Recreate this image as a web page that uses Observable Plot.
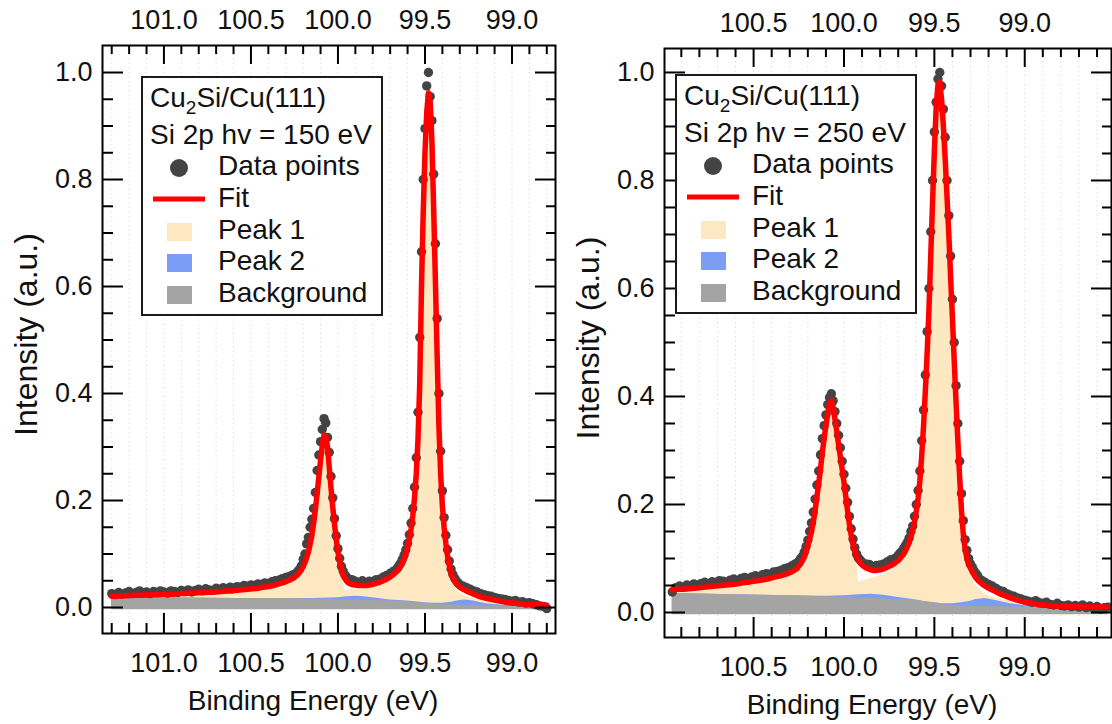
<!DOCTYPE html>
<html><head><meta charset="utf-8">
<script src="https://cdn.jsdelivr.net/npm/d3@7"></script>
<script src="https://cdn.jsdelivr.net/npm/@observablehq/plot@0.6"></script>
<style>
html,body{margin:0;padding:0;background:#fff;}
#wrap{position:relative;width:1112px;height:724px;overflow:hidden;background:#fff;}
#wrap > div{position:absolute;top:0;}
</style></head><body><div id="wrap"></div>
<script>
// ================= Panel A : hv = 150 eV =================
// measured data points
const dataEnergyA = [101.30,101.28,101.26,101.24,101.22,101.20,101.18,101.16,101.14,101.12,101.10,101.08,101.06,101.04,101.02,101.00,100.98,100.96,100.94,100.92,100.90,100.88,100.86,100.84,100.82,100.80,100.78,100.76,100.74,100.72,100.70,100.68,100.66,100.64,100.62,100.60,100.58,100.56,100.54,100.52,100.50,100.48,100.46,100.44,100.42,100.40,100.38,100.36,100.34,100.32,100.30,100.28,100.26,
100.25,100.24,100.23,100.22,100.21,100.20,100.19,100.18,100.17,100.16,100.15,100.14,100.13,100.12,100.11,100.10,100.09,100.08,100.07,100.06,100.05,100.04,100.03,100.02,100.01,100.00,99.99,99.98,99.97,99.96,99.95,99.94,
99.92,99.90,99.88,99.86,99.84,99.82,99.80,99.78,99.76,99.74,99.72,99.70,99.68,
99.66,99.65,99.64,99.63,99.62,99.61,99.60,99.59,99.58,99.57,99.56,99.55,99.54,99.53,99.52,99.51,99.50,99.49,99.48,99.47,99.46,99.45,99.44,99.43,99.42,99.41,99.40,99.39,99.38,99.37,99.36,99.35,99.34,99.33,99.32,99.31,99.30,
99.28,99.26,99.24,99.22,99.20,99.18,99.16,99.14,99.12,99.10,99.08,99.06,99.04,99.02,99.00,98.98,98.96,98.94,98.92,98.90,98.88,98.86,98.84,98.82,98.80];
const countsA = [0.026,0.024,0.028,0.025,0.027,0.030,0.026,0.028,0.031,0.027,0.029,0.026,0.030,0.028,0.031,0.029,0.027,0.031,0.030,0.028,0.032,0.030,0.033,0.029,0.032,0.034,0.031,0.035,0.033,0.032,0.036,0.034,0.037,0.035,0.038,0.036,0.039,0.038,0.041,0.040,0.042,0.041,0.044,0.043,0.046,0.045,0.048,0.050,0.051,0.054,0.056,0.058,0.061,
0.062,0.064,0.068,0.072,0.078,0.090,0.100,0.119,0.131,0.150,0.165,0.185,0.215,0.256,0.285,0.310,0.333,0.353,0.345,0.318,0.290,0.245,0.205,0.166,0.134,0.110,0.092,0.077,0.068,0.061,0.057,0.053,
0.052,0.049,0.047,0.050,0.046,0.049,0.048,0.052,0.053,0.057,0.060,0.064,0.068,
0.073,0.078,0.083,0.090,0.098,0.108,0.120,0.136,0.158,0.185,0.225,0.280,0.365,0.505,0.665,0.800,0.895,0.975,1.000,0.955,0.910,0.810,0.680,0.540,0.400,0.292,0.218,0.168,0.135,0.108,0.087,0.072,0.062,0.055,0.050,0.046,0.043,
0.040,0.037,0.034,0.031,0.029,0.026,0.024,0.022,0.021,0.019,0.017,0.016,0.015,0.013,0.012,0.013,0.010,0.011,0.008,0.009,0.007,0.005,0.003,0.002,-0.002];
// fit model and components
const modelEnergyA = [101.30,101.27,101.24,101.21,101.18,101.15,101.12,101.09,101.06,101.03,101.00,100.97,100.94,100.91,100.88,100.85,100.82,100.79,100.76,100.73,100.70,100.67,100.64,100.61,100.58,100.55,100.52,100.49,100.46,100.43,100.40,100.37,100.34,100.31,100.28,
100.25,100.24,100.23,100.22,100.21,100.20,100.19,100.18,100.17,100.16,100.15,100.14,100.13,100.12,100.11,100.10,100.09,100.08,100.07,100.06,100.05,100.04,100.03,100.02,100.01,100.00,99.99,99.98,99.97,99.96,99.95,99.94,
99.92,99.90,99.88,99.86,99.84,99.82,99.80,99.78,99.76,99.74,99.72,99.70,99.68,
99.66,99.65,99.64,99.63,99.62,99.61,99.60,99.59,99.58,99.57,99.56,99.55,99.54,99.53,99.52,99.51,99.50,99.49,99.48,99.47,99.46,99.45,99.44,99.43,99.42,99.41,99.40,99.39,99.38,99.37,99.36,99.35,99.34,99.33,99.32,99.31,99.30,
99.28,99.25,99.22,99.19,99.16,99.13,99.10,99.07,99.04,99.01,98.98,98.95,98.92,98.89,98.86,98.83,98.80];
const fitA = [0.021,0.021,0.022,0.022,0.023,0.023,0.023,0.024,0.024,0.024,0.025,0.025,0.025,0.026,0.026,0.027,0.027,0.028,0.028,0.029,0.029,0.030,0.031,0.031,0.032,0.033,0.034,0.035,0.036,0.038,0.039,0.041,0.044,0.047,0.051,
0.056,0.059,0.062,0.066,0.071,0.077,0.084,0.093,0.104,0.118,0.135,0.157,0.183,0.212,0.244,0.275,0.303,0.322,0.320,0.300,0.262,0.224,0.188,0.156,0.128,0.104,0.085,0.071,0.061,0.054,0.049,0.046,
0.043,0.042,0.041,0.041,0.041,0.042,0.043,0.045,0.047,0.050,0.053,0.057,0.062,
0.068,0.072,0.077,0.083,0.091,0.100,0.112,0.127,0.147,0.172,0.205,0.250,0.315,0.420,0.600,0.740,0.850,0.925,0.962,0.945,0.870,0.745,0.610,0.470,0.340,0.250,0.190,0.150,0.120,0.096,0.078,0.065,0.056,0.050,0.045,0.041,0.038,
0.034,0.029,0.025,0.021,0.018,0.016,0.014,0.012,0.010,0.009,0.008,0.007,0.006,0.006,0.005,0.005,0.004];
const peak1A = [0.019,0.019,0.020,0.020,0.021,0.021,0.021,0.022,0.022,0.022,0.023,0.023,0.023,0.024,0.024,0.025,0.025,0.026,0.026,0.027,0.027,0.028,0.029,0.029,0.030,0.031,0.032,0.033,0.034,0.036,0.037,0.039,0.042,0.045,0.049,
0.054,0.057,0.060,0.064,0.069,0.075,0.082,0.091,0.102,0.116,0.133,0.155,0.181,0.210,0.242,0.273,0.301,0.320,0.318,0.298,0.260,0.222,0.186,0.154,0.126,0.102,0.083,0.068,0.057,0.031,0.032,0.033,
0.034,0.035,0.034,0.034,0.034,0.035,0.036,0.038,0.041,0.044,0.047,0.052,0.057,
0.063,0.068,0.073,0.079,0.087,0.096,0.108,0.123,0.143,0.168,0.201,0.246,0.311,0.416,0.596,0.736,0.846,0.921,0.958,0.941,0.866,0.741,0.606,0.466,0.336,0.246,0.186,0.145,0.114,0.089,0.070,0.056,0.046,0.039,0.034,0.030,0.027,
0.024,0.020,0.017,0.015,0.013,0.012,0.011,0.010,0.009,0.008,0.007,0.006,0.005,0.005,0.004,0.004,0.003];
const compEnergyA = [101.30,101.00,100.60,100.30,100.15,100.00,99.95,99.90,99.85,99.80,99.70,99.60,99.50,99.45,99.40,99.35,99.30,99.27,99.22,99.15,99.05,98.80];
const peak2A =      [0.018,0.018,0.017,0.017,0.017,0.018,0.020,0.021,0.020,0.018,0.014,0.012,0.009,0.008,0.008,0.010,0.013,0.014,0.012,0.007,0.004,0.003];
const backgroundA = [0.018,0.018,0.017,0.017,0.016,0.015,0.014,0.014,0.013,0.013,0.012,0.011,0.008,0.006,0.005,0.005,0.004,0.004,0.004,0.003,0.003,0.003];

// ================= Panel B : hv = 250 eV =================
const dataEnergyB = [100.95,100.93,100.91,100.89,100.87,100.85,100.83,100.81,100.79,100.77,100.75,100.73,100.71,100.69,100.67,100.65,100.63,100.61,100.59,100.57,100.55,100.53,100.51,100.49,100.47,100.45,100.43,100.41,100.39,100.37,100.35,100.33,100.31,100.29,100.27,
100.25,100.24,100.23,100.22,100.21,100.20,100.19,100.18,100.17,100.16,100.15,100.14,100.13,100.12,100.11,100.10,100.09,100.08,100.07,100.06,100.05,100.04,100.03,100.02,100.01,100.00,99.99,99.98,99.97,99.96,99.95,99.94,99.93,99.92,99.91,99.90,
99.88,99.86,99.84,99.82,99.80,99.78,99.76,99.74,99.72,99.70,
99.69,99.68,99.67,99.66,99.65,99.64,99.63,99.62,99.61,99.60,99.59,99.58,99.57,99.56,99.55,99.54,99.53,99.52,99.51,99.50,99.49,99.48,99.47,99.46,99.45,99.44,99.43,99.42,99.41,99.40,99.39,99.38,99.37,99.36,99.35,99.34,99.33,99.32,99.31,99.30,99.29,99.28,99.27,99.26,
99.24,99.22,99.20,99.18,99.16,99.14,99.12,99.10,99.08,99.06,99.04,99.02,99.00,98.98,98.96,98.94,98.92,98.90,98.88,98.86,98.84,98.82,98.80,98.78,98.76,98.74,98.72,98.70,98.68,98.66,98.64,98.62,98.60,98.58,98.56,98.54];
const countsB = [0.038,0.046,0.049,0.047,0.051,0.049,0.053,0.050,0.054,0.056,0.053,0.057,0.055,0.059,0.058,0.056,0.060,0.062,0.059,0.063,0.065,0.062,0.066,0.068,0.066,0.070,0.072,0.071,0.075,0.076,0.078,0.081,0.083,0.086,0.090,
0.095,0.100,0.104,0.112,0.122,0.134,0.150,0.166,0.186,0.210,0.236,0.262,0.292,0.322,0.346,0.366,0.385,0.398,0.405,0.392,0.372,0.350,0.328,0.305,0.280,0.256,0.230,0.204,0.178,0.155,0.136,0.120,0.108,0.101,0.097,0.093,
0.090,0.089,0.085,0.087,0.088,0.090,0.094,0.098,0.100,0.106,
0.110,0.113,0.119,0.124,0.130,0.138,0.150,0.160,0.178,0.200,0.226,0.262,0.318,0.375,0.440,0.520,0.600,0.705,0.800,0.890,0.945,0.988,1.000,0.975,0.932,0.880,0.800,0.735,0.660,0.580,0.500,0.420,0.350,0.280,0.220,0.170,0.135,0.115,0.100,0.090,0.084,0.077,0.072,0.068,
0.060,0.056,0.052,0.049,0.045,0.041,0.039,0.035,0.032,0.030,0.027,0.025,0.023,0.021,0.019,0.022,0.018,0.017,0.019,0.015,0.014,0.017,0.013,0.012,0.014,0.011,0.013,0.010,0.014,0.009,0.012,0.008,0.011,0.006,0.009,0.010];
const modelEnergyB = [100.95,100.92,100.89,100.86,100.83,100.80,100.77,100.74,100.71,100.68,100.65,100.62,100.59,100.56,100.53,100.50,100.47,100.44,100.41,100.38,100.35,100.32,100.29,100.26,
100.25,100.24,100.23,100.22,100.21,100.20,100.19,100.18,100.17,100.16,100.15,100.14,100.13,100.12,100.11,100.10,100.09,100.08,100.07,100.06,100.05,100.04,100.03,100.02,100.01,100.00,99.99,99.98,99.97,99.96,99.95,99.94,99.93,99.92,99.91,99.90,
99.88,99.86,99.84,99.82,99.80,99.78,99.76,99.74,99.72,99.70,
99.69,99.68,99.67,99.66,99.65,99.64,99.63,99.62,99.61,99.60,99.59,99.58,99.57,99.56,99.55,99.54,99.53,99.52,99.51,99.50,99.49,99.48,99.47,99.46,99.45,99.44,99.43,99.42,99.41,99.40,99.39,99.38,99.37,99.36,99.35,99.34,99.33,99.32,99.31,99.30,99.29,99.28,99.27,99.26,
99.23,99.20,99.17,99.14,99.11,99.08,99.05,99.02,98.99,98.96,98.93,98.90,98.87,98.84,98.81,98.78,98.75,98.72,98.69,98.66,98.63,98.60,98.57,98.54];
const fitB = [0.042,0.043,0.043,0.044,0.045,0.046,0.047,0.048,0.049,0.050,0.051,0.052,0.053,0.055,0.056,0.058,0.059,0.061,0.063,0.066,0.068,0.071,0.075,0.081,
0.086,0.090,0.096,0.102,0.112,0.124,0.136,0.150,0.167,0.188,0.214,0.238,0.266,0.296,0.322,0.346,0.368,0.386,0.393,0.380,0.358,0.336,0.311,0.288,0.265,0.241,0.215,0.188,0.163,0.143,0.126,0.113,0.104,0.097,0.092,0.088,
0.083,0.080,0.078,0.078,0.079,0.081,0.084,0.087,0.091,0.096,
0.100,0.104,0.108,0.114,0.121,0.130,0.140,0.153,0.168,0.188,0.212,0.245,0.290,0.345,0.410,0.480,0.560,0.660,0.760,0.855,0.935,0.978,0.982,0.950,0.900,0.840,0.770,0.700,0.620,0.545,0.465,0.390,0.318,0.250,0.190,0.145,0.118,0.100,0.088,0.082,0.075,0.069,0.064,0.060,
0.051,0.045,0.040,0.035,0.031,0.027,0.024,0.021,0.019,0.017,0.015,0.014,0.013,0.012,0.012,0.011,0.011,0.011,0.010,0.010,0.010,0.010,0.010,0.010];
const peak1B = [0.040,0.041,0.041,0.042,0.043,0.044,0.045,0.046,0.047,0.047,0.046,0.047,0.048,0.049,0.050,0.052,0.053,0.055,0.057,0.060,0.062,0.065,0.069,0.076,
0.082,0.086,0.092,0.098,0.108,0.120,0.132,0.146,0.163,0.184,0.210,0.234,0.262,0.292,0.318,0.342,0.364,0.382,0.389,0.376,0.354,0.332,0.307,0.284,0.261,0.237,0.211,0.184,0.159,0.139,0.122,0.109,0.099,0.056,0.057,0.058,
0.060,0.062,0.064,0.066,0.068,0.070,0.073,0.077,0.082,0.088,
0.094,0.098,0.102,0.108,0.115,0.124,0.134,0.147,0.162,0.182,0.206,0.239,0.284,0.339,0.404,0.474,0.554,0.654,0.754,0.849,0.929,0.972,0.976,0.944,0.894,0.834,0.764,0.694,0.614,0.539,0.459,0.384,0.312,0.243,0.182,0.136,0.108,0.089,0.076,0.069,0.062,0.056,0.051,0.047,
0.036,0.031,0.028,0.025,0.023,0.021,0.019,0.017,0.016,0.015,0.014,0.013,0.012,0.011,0.011,0.010,0.010,0.010,0.009,0.009,0.009,0.009,0.009,0.009];
const compEnergyB = [100.95,100.60,100.30,100.10,100.00,99.92,99.85,99.78,99.70,99.60,99.55,99.50,99.45,99.40,99.35,99.30,99.27,99.22,99.16,99.08,98.95,98.54];
const peak2B =      [0.035,0.033,0.031,0.030,0.031,0.033,0.034,0.032,0.028,0.023,0.020,0.018,0.016,0.016,0.018,0.021,0.024,0.026,0.022,0.016,0.011,0.010];
const backgroundB = [0.035,0.033,0.031,0.029,0.028,0.027,0.026,0.025,0.024,0.022,0.020,0.018,0.015,0.013,0.012,0.011,0.011,0.011,0.011,0.010,0.010,0.010];

// ================= ticks / labels =================
const xMajorA = [101.0,100.5,100.0,99.5,99.0];
const xMinorA = [101.3,101.2,101.1,100.9,100.8,100.7,100.6,100.4,100.3,100.2,100.1,99.9,99.8,99.7,99.6,99.4,99.3,99.2,99.1,98.9,98.8];
const xMajorB = [100.5,100.0,99.5,99.0];
const xMinorB = [100.9,100.8,100.7,100.6,100.4,100.3,100.2,100.1,99.9,99.8,99.7,99.6,99.4,99.3,99.2,99.1,98.9,98.8,98.7,98.6];
const yMajor = [0.0,0.2,0.4,0.6,0.8,1.0];
const yMinor = [0.05,0.1,0.15,0.25,0.3,0.35,0.45,0.5,0.55,0.65,0.7,0.75,0.85,0.9,0.95];
const legendItems = ["Data points","Fit","Peak 1","Peak 2","Background"];
const xTitle = "Binding Energy (eV)";
const yTitle = "Intensity (a.u.)";

const FONT = '"Liberation Sans", Arial, Helvetica, sans-serif';
const FS = 27, FST = 28, FSY = 32, FSL = 28;
const C = {peak1:"#fde8c2", peak2:"#7c9df5", bg:"#a4a4a4", data:"#444444", fit:"#ff0000"};

function panel(o){
  const H = 724;
  const fh = H - o.mT - o.mB, fw = o.width - o.mL - o.mR;
  const pts = o.dataE.map((e,i)=>({E:e, I:o.counts[i]}));
  const model = o.modelE.map((e,i)=>({E:e, F:o.fit[i], P1:o.peak1[i]}));
  const comp = o.compE.map((e,i)=>({E:e, P2:o.peak2[i], B:o.bg[i]}));
  const grid = o.majors.concat(o.minors);
  const fmt = d => d.toFixed(1);
  return Plot.plot({
    width:o.width, height:H,
    marginLeft:o.mL, marginRight:o.mR, marginTop:o.mT, marginBottom:o.mB,
    style:{fontFamily:FONT, fontSize:FS+"px", color:"#111", background:"transparent", overflow:"visible"},
    x:{domain:o.xDomain},
    y:{domain:o.yDomain},
    marks:[
      Plot.ruleX(grid, {x:d=>d, stroke:"#d2d2d2", strokeWidth:1, strokeDasharray:"1,3.5"}),
      Plot.areaY(model, {x:"E", y1:0, y2:"P1", fill:C.peak1}),
      Plot.areaY(comp, {x:"E", y1:0, y2:"P2", fill:C.peak2}),
      Plot.areaY(comp, {x:"E", y1:-0.004, y2:"B", fill:C.bg}),
      Plot.dot(pts, {x:"E", y:"I", r:4.7, fill:C.data}),
      Plot.line(model, {x:"E", y:"F", stroke:C.fit, strokeWidth:5.5, strokeLinejoin:"round"}),
      Plot.tickX(o.majors, {x:d=>d, insetTop:fh-20, stroke:"#000", strokeWidth:2}),
      Plot.tickX(o.minors, {x:d=>d, insetTop:fh-10, stroke:"#000", strokeWidth:2}),
      Plot.tickX(o.majors, {x:d=>d, insetBottom:fh-19, stroke:"#000", strokeWidth:2}),
      Plot.tickX(o.minors, {x:d=>d, insetBottom:fh-9, stroke:"#000", strokeWidth:2}),
      Plot.tickY(yMajor, {y:d=>d, insetRight:fw-21, stroke:"#000", strokeWidth:2}),
      Plot.tickY(yMinor, {y:d=>d, insetRight:fw-11, stroke:"#000", strokeWidth:2}),
      Plot.tickY(yMajor, {y:d=>d, insetLeft:fw-20, stroke:"#000", strokeWidth:2}),
      Plot.tickY(yMinor, {y:d=>d, insetLeft:fw-9, stroke:"#000", strokeWidth:2}),
      Plot.frame({stroke:"#000", strokeWidth:2}),
      Plot.axisX(o.majors, {anchor:"bottom", tickSize:0, tickPadding:19, tickFormat:fmt, label:null, fontSize:FS}),
      Plot.axisX(o.majors, {anchor:"top", tickSize:0, tickPadding:17, tickFormat:fmt, label:null, fontSize:FS}),
      Plot.axisY(yMajor, {anchor:"left", tickSize:0, tickPadding:10, tickFormat:fmt, label:null, fontSize:FS}),
      Plot.text([xTitle], {text:d=>d, frameAnchor:"bottom", textAnchor:"middle", lineAnchor:"top", dy:57, dx:-16, fontSize:FST, fill:"#111"}),
      Plot.text([yTitle], {text:d=>d, frameAnchor:"left", textAnchor:"middle", lineAnchor:"middle", rotate:-90, dx:-76, dy:-5, fontSize:FSY, fill:"#111"})
    ]
  });
}

function legend(left, top, line2){
  const W = 240, Hh = 238;
  const svg = d3.create("svg").attr("width", W+4).attr("height", Hh+4)
    .style("position","absolute").style("left",(left-2)+"px").style("top",(top-2)+"px")
    .attr("font-family", FONT).attr("font-size", FSL).attr("fill","#111");
  const g = svg.append("g").attr("transform","translate(2,2)");
  g.append("rect").attr("width",W).attr("height",Hh).attr("fill","#fff").attr("stroke","#1a1a1a").attr("stroke-width",2);
  const t1 = g.append("text").attr("x",8).attr("y",30);
  t1.append("tspan").text("Cu");
  t1.append("tspan").attr("dy",7).attr("font-size",19).text("2");
  t1.append("tspan").attr("dy",-7).text("Si/Cu(111)");
  g.append("text").attr("x",8).attr("y",67).text(line2);
  g.append("circle").attr("cx",37).attr("cy",91).attr("r",9).attr("fill",C.data);
  g.append("line").attr("x1",11).attr("x2",63).attr("y1",122).attr("y2",122).attr("stroke",C.fit).attr("stroke-width",5);
  g.append("rect").attr("x",25).attr("y",146).attr("width",25).attr("height",18).attr("fill",C.peak1);
  g.append("rect").attr("x",25).attr("y",177).attr("width",25).attr("height",18).attr("fill",C.peak2);
  g.append("rect").attr("x",25).attr("y",209).attr("width",25).attr("height",18).attr("fill",C.bg);
  const ys = [98,130,162,193,225];
  legendItems.forEach((s,i)=> g.append("text").attr("x",76).attr("y",ys[i]).text(s));
  return svg.node();
}

const wrap = document.getElementById("wrap");
function place(node, left){ const d = document.createElement("div"); d.style.left = left+"px"; d.appendChild(node); wrap.appendChild(d); }

place(panel({dataE:dataEnergyA, counts:countsA, modelE:modelEnergyA, fit:fitA, peak1:peak1A, compE:compEnergyA, peak2:peak2A, bg:backgroundA,
  xDomain:[101.353,98.750], yDomain:[-0.0486,1.0505], majors:xMajorA, minors:xMinorA,
  width:560, mL:102, mR:5, mT:45, mB:91}), 0);
place(panel({dataE:dataEnergyB, counts:countsB, modelE:modelEnergyB, fit:fitB, peak1:peak1B, compE:compEnergyB, peak2:peak2B, bg:backgroundB,
  xDomain:[100.993,98.520], yDomain:[-0.0463,1.0444], majors:xMajorB, minors:xMinorB,
  width:552, mL:104, mR:1, mT:48, mB:87}), 560);
wrap.appendChild(legend(142, 77, "Si 2p hv = 150 eV"));
wrap.appendChild(legend(676, 75, "Si 2p hv = 250 eV"));
</script></body></html>
